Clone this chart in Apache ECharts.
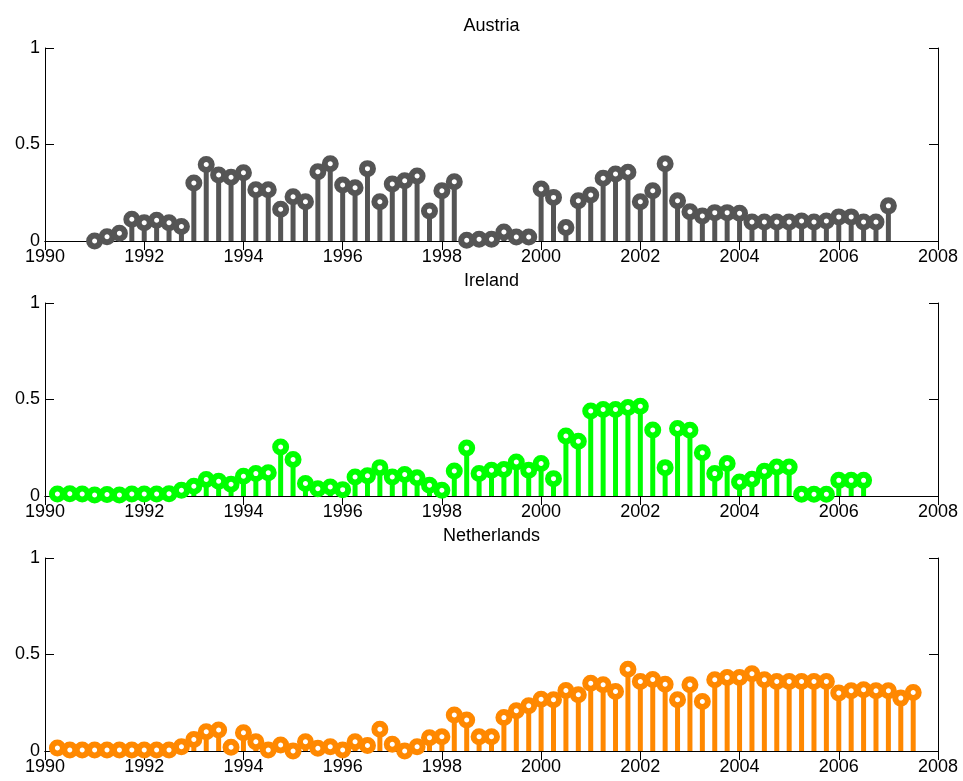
<!DOCTYPE html>
<html>
<head>
<meta charset="utf-8">
<script src="https://cdn.jsdelivr.net/npm/echarts@6/dist/echarts.min.js"></script>
<style>
  html, body { margin: 0; padding: 0; background: #fff; }
  #chart { width: 963px; height: 781px; }
</style>
</head>
<body>
<div id="chart"></div>
<script>
// Quarterly series, one value per quarter starting at the given year
const titles = ['Austria', 'Ireland', 'Netherlands'];
const colors = ['#555555', '#00ff00', '#ff8800'];
const startYears = [1991.0, 1990.25, 1990.25];

const austria = [
  0.0, 0.022, 0.04, 0.113, 0.095, 0.108, 0.095, 0.075,
  0.30, 0.396, 0.342, 0.33, 0.354, 0.266, 0.266, 0.165,
  0.229, 0.203, 0.359, 0.40, 0.29, 0.276, 0.375, 0.203,
  0.295, 0.3125, 0.337, 0.156, 0.26, 0.307, 0.004, 0.009,
  0.009, 0.047, 0.021, 0.021, 0.269, 0.226, 0.07, 0.208,
  0.238, 0.325, 0.347, 0.356, 0.203, 0.26, 0.40, 0.208,
  0.151, 0.13, 0.147, 0.147, 0.144, 0.099, 0.099, 0.099,
  0.099, 0.104, 0.099, 0.104, 0.125, 0.125, 0.099, 0.099,
  0.182
];

const ireland = [
  0.01, 0.012, 0.01, 0.005, 0.008, 0.005, 0.01, 0.01,
  0.01, 0.012, 0.03, 0.05, 0.085, 0.076, 0.061, 0.102,
  0.116, 0.121, 0.254, 0.189, 0.065, 0.038, 0.047, 0.033,
  0.098, 0.105, 0.147, 0.099, 0.111, 0.094, 0.056, 0.03,
  0.13, 0.249, 0.116, 0.133, 0.137, 0.176, 0.133, 0.168,
  0.09, 0.311, 0.284, 0.44, 0.448, 0.448, 0.459, 0.465,
  0.342, 0.147, 0.35, 0.341, 0.224, 0.116, 0.168, 0.073,
  0.087, 0.128, 0.15, 0.15, 0.009, 0.009, 0.009, 0.081,
  0.081, 0.081
];

const netherlands = [
  0.015, 0.005, 0.005, 0.005, 0.005, 0.005, 0.005, 0.005,
  0.005, 0.005, 0.022, 0.06, 0.10, 0.109, 0.019, 0.095,
  0.048, 0.005, 0.031, 0.0, 0.048, 0.014, 0.022, 0.005,
  0.048, 0.028, 0.113, 0.035, 0.0, 0.022, 0.069, 0.074,
  0.187, 0.161, 0.074, 0.074, 0.173, 0.208, 0.234, 0.268,
  0.265, 0.313, 0.291, 0.351, 0.343, 0.308, 0.424, 0.36,
  0.37, 0.346, 0.265, 0.343, 0.256, 0.369, 0.381, 0.381,
  0.40, 0.369, 0.36, 0.36, 0.36, 0.36, 0.36, 0.30,
  0.312, 0.317, 0.312, 0.312, 0.274, 0.303
];

const xTicks = [1990, 1992, 1994, 1996, 1998, 2000, 2002, 2004, 2006, 2008];
const yTicks = [0, 0.5, 1];

const seriesValues = [austria, ireland, netherlands];

// Plot-area boxes for the three stacked panels
const panelTops = [48, 303, 558];
const panelHeight = 193;
const gridLeft = 45;
const gridRight = 25;
const fontFamily = '"Liberation Sans", Arial, Helvetica, sans-serif';
const fontSize = 18;

function toPoints(start, vals) {
  return vals.map((v, i) => [start + i * 0.25, v]);
}

const grids = [], xAxes = [], yAxes = [], series = [], titleOpts = [];

seriesValues.forEach((vals, k) => {
  grids.push({ left: gridLeft, right: gridRight, top: panelTops[k], height: panelHeight });
  titleOpts.push({
    text: titles[k],
    left: gridLeft + (963 - gridLeft - gridRight) / 2,
    textAlign: 'center',
    top: panelTops[k] - 31,
    padding: 0,
    textStyle: { fontFamily, fontSize, fontWeight: 'normal', color: '#000' }
  });

  const axisLine = { show: true, lineStyle: { color: '#000', width: 1 } };
  const tick = { show: true, inside: true, length: 9, lineStyle: { color: '#000', width: 1 } };
  const xBase = {
    type: 'value', gridIndex: k,
    min: xTicks[0], max: xTicks[xTicks.length - 1], interval: 2,
    splitLine: { show: false }, axisLine, axisTick: tick
  };
  // bottom axis with labels
  xAxes.push(Object.assign({}, xBase, {
    position: 'bottom',
    axisLabel: { color: '#000', fontFamily, fontSize, margin: 7,
      showMinLabel: true, showMaxLabel: true, formatter: v => String(v) }
  }));
  // top axis (box edge with ticks)
  xAxes.push(Object.assign({}, xBase, { position: 'top', axisLabel: { show: false } }));

  const yBase = {
    type: 'value', gridIndex: k,
    min: yTicks[0], max: yTicks[yTicks.length - 1], interval: 0.5,
    splitLine: { show: false }, axisLine, axisTick: tick
  };
  yAxes.push(Object.assign({}, yBase, {
    position: 'left',
    axisLabel: { color: '#000', fontFamily, fontSize, margin: 5,
      formatter: v => String(v) }
  }));
  yAxes.push(Object.assign({}, yBase, { position: 'right', axisLabel: { show: false } }));

  const pts = toPoints(startYears[k], vals);
  // stems
  series.push({
    type: 'bar', name: titles[k] + ' stems',
    xAxisIndex: 2 * k, yAxisIndex: 2 * k,
    data: pts, barWidth: 5,
    itemStyle: { color: colors[k] },
    silent: true, animation: false, z: 2
  });
  // circle heads
  series.push({
    type: 'scatter', name: titles[k],
    xAxisIndex: 2 * k, yAxisIndex: 2 * k,
    data: pts, symbol: 'circle', symbolSize: 11,
    itemStyle: { color: '#ffffff', borderColor: colors[k], borderWidth: 6, opacity: 1 },
    clip: false, silent: true, animation: false, z: 3
  });
});

const chart = echarts.init(document.getElementById('chart'), null, { renderer: 'canvas' });
chart.setOption({
  backgroundColor: '#fff',
  animation: false,
  title: titleOpts,
  grid: grids,
  xAxis: xAxes,
  yAxis: yAxes,
  series
});
</script>
</body>
</html>
